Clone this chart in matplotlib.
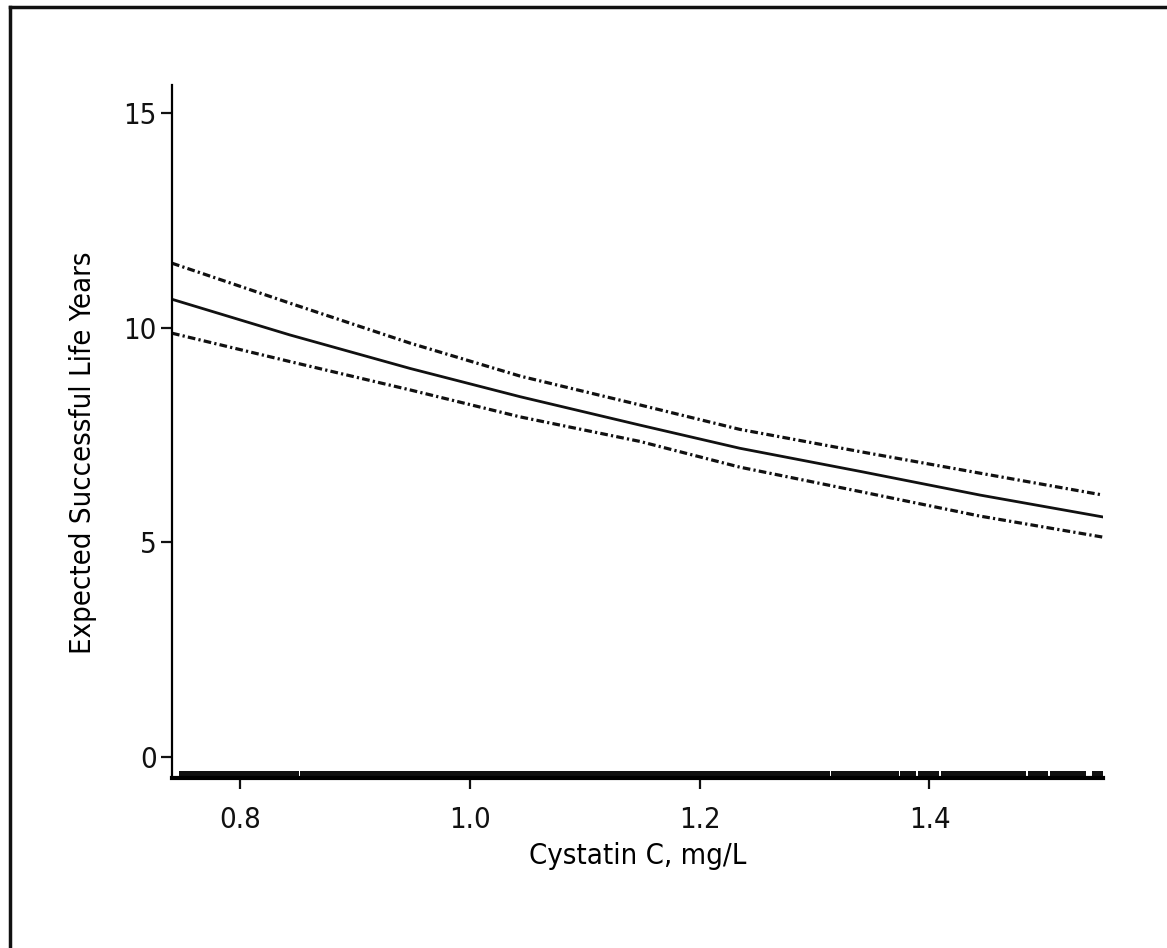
import numpy as np
import matplotlib
matplotlib.use("Agg")
import matplotlib.pyplot as plt
import matplotlib.transforms as mtransforms
from matplotlib.lines import Line2D

plt.rcParams['font.family'] = ['DejaVu Sans']
plt.rcParams['font.stretch'] = 'condensed'

# curves
cystatin = [0.741, 0.8435, 0.948, 1.044, 1.148, 1.235, 1.34, 1.444, 1.551]
upper = [11.50, 10.57, 9.64, 8.87, 8.20, 7.63, 7.11, 6.61, 6.10]
estimate = [10.66, 9.83, 9.05, 8.39, 7.73, 7.19, 6.65, 6.10, 5.59]
lower = [9.87, 9.21, 8.55, 7.92, 7.35, 6.75, 6.18, 5.61, 5.12]

# rug along the x axis: covered range and gaps (centre, width)
rug_start, rug_end = 0.747, 1.551
rug_gaps = [(0.852, 0.0015), (1.314, 0.0015), (1.374, 0.0015), (1.389, 0.0015),
            (1.409, 0.0015), (1.485, 0.0015), (1.504, 0.0015), (1.539, 0.005)]

xticks = [0.8, 1.0, 1.2, 1.4]
yticks = [0, 5, 10, 15]

fig = plt.figure(figsize=(11.67, 9.48), dpi=100)
ax = fig.add_axes([0.1474, 0.1793, 0.7978, 0.731])

dashdot = (0, (2.4, 1.0, 0.7, 1.0))
ax.plot(cystatin, upper, color='#111111', lw=2.3, linestyle=dashdot)
ax.plot(cystatin, estimate, color='#111111', lw=2.0)
ax.plot(cystatin, lower, color='#111111', lw=2.3, linestyle=dashdot)

# rug band
segs = []
s = rug_start
for c, w in rug_gaps:
    segs.append((s, c - w / 2 - s))
    s = c + w / 2
segs.append((s, rug_end - s))
trans = mtransforms.blended_transform_factory(ax.transData, ax.transAxes)
ax.broken_barh(segs, (-0.002, 0.012), facecolors='#111111', transform=trans, clip_on=False)

ax.set_xlim(0.741, 1.551)
ax.set_ylim(-0.49, 15.65)
ax.set_xticks(xticks)
ax.set_xticklabels(['0.8', '1.0', '1.2', '1.4'])
ax.set_yticks(yticks)

for side in ['top', 'right']:
    ax.spines[side].set_visible(False)
ax.spines['left'].set_linewidth(1.6)
ax.spines['bottom'].set_linewidth(3)
ax.tick_params(axis='both', direction='out', length=8, width=1.6, labelsize=21, colors='#111111')
ax.tick_params(axis='x', pad=12)
ax.tick_params(axis='y', pad=3)

ax.set_xlabel('Cystatin C, mg/L', fontsize=21, labelpad=6)
ax.set_ylabel('Expected Successful Life Years', fontsize=21)
ax.yaxis.set_label_coords(-0.081, 0.47)

# outer frame (top and left edges visible in the picture)
fig.add_artist(Line2D([0.0086, 1.0], [0.9926, 0.9926], transform=fig.transFigure,
                      color='#111111', lw=2.5))
fig.add_artist(Line2D([0.0086, 0.0086], [0.0, 0.9926], transform=fig.transFigure,
                      color='#111111', lw=2.5))

fig.savefig('out.png', dpi=100)
